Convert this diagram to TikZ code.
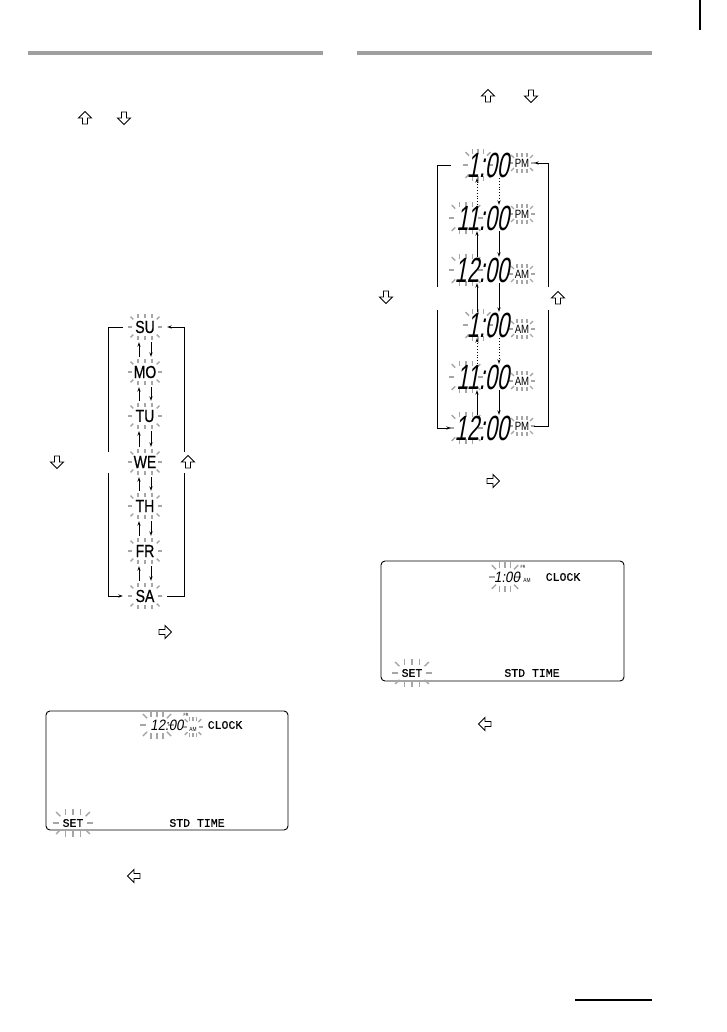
\documentclass[tikz,border=0pt]{standalone}
\usepackage{fontspec}
\usetikzlibrary{arrows.meta}
\newfontfamily\lcd[FakeStretch=0.8]{Liberation Sans}
\newfontfamily\lcdday[FakeStretch=0.8,FakeBold=0.6]{Liberation Sans}
\newfontfamily\lcdmono[FakeBold=0.8]{Liberation Mono}
\newfontfamily\lcdit[FakeStretch=0.62,FakeSlant=0.18]{Liberation Sans}
\newfontfamily\lcdsm[FakeStretch=0.88,FakeSlant=0.18]{Liberation Sans}
\newcommand\glow[5]{%
 \begin{scope}[shift={(#1,#2)}]
  \foreach \s in {-1,0,1}{
    \draw[glowline] (\s*0.55*#3,-#4) -- (\s*0.55*#3,-#4-#5);
    \draw[glowline] (\s*0.55*#3,#4) -- (\s*0.55*#3,#4+#5);}
  \draw[glowline] (-#3,0) -- (-#3-#5,0);
  \draw[glowline] (#3,0) -- (#3+#5,0);
  \foreach \sx/\sy in {1/1,1/-1,-1/1,-1/-1}
    \draw[glowline] (\sx*0.9*#3,\sy*0.85*#4) -- (\sx*0.9*#3+\sx*0.7*#5,\sy*0.85*#4+\sy*0.7*#5);
 \end{scope}}
\newcommand\hollowarr[3]{%
 \begin{scope}[shift={(#1,#2)},rotate=#3]
  \draw[hollow] (-2.5,6)--(-2.5,0)--(-6.5,0)--(0,-6.5)--(6.5,0)--(2.5,0)--(2.5,6)--cycle;
 \end{scope}}
\begin{document}
\begin{tikzpicture}[x=1pt,y=-1pt,
  glowline/.style={gray!70,line width=1.4pt},
  hollow/.style={draw=black,line width=0.9pt,line join=miter,fill=white},
  day/.style={font=\lcdday\fontsize{17.5}{17.5}\selectfont,inner sep=0pt,minimum width=44pt,minimum height=30pt},
  tdig/.style={font=\lcdit\fontsize{35}{35}\selectfont,inner sep=0pt,text width=58pt,align=right,minimum height=26pt},
  ampm/.style={font=\lcd\fontsize{12}{12}\selectfont,inner sep=0pt,minimum width=24pt,minimum height=12pt},
  boxtxt/.style={font=\lcdmono\fontsize{11.5}{11.5}\selectfont,inner sep=0pt},
  smdig/.style={font=\lcdsm\fontsize{15}{15}\selectfont,inner sep=0pt},
  tiny/.style={font=\lcd\fontsize{6}{6}\selectfont,inner sep=0pt},
  tinier/.style={font=\lcd\fontsize{4.5}{4.5}\selectfont,inner sep=0pt},
  conn/.style={line width=0.8pt},
  tip/.style={-{Stealth[length=4.5pt,width=3.2pt]}},
  lcdbox/.style={draw,line width=0.9pt,rounded corners=4pt},
  bar/.style={fill=gray!75,draw=none}]
\useasboundingbox (0,0) rectangle (726,1032);
% header bars and page marks
\fill[bar] (28,51) rectangle (323,55);
\fill[bar] (357,51) rectangle (652,55);
\fill[black] (699,0) rectangle (701,30);
\fill[black] (575,999) rectangle (652,1001);
% top arrows
\hollowarr{85}{118}{0}
\hollowarr{124}{118}{180}
\hollowarr{488}{96}{0}
\hollowarr{531}{96}{180}
% ---------- day cycle ----------
\foreach \n/\y in {SU/327,MO/372,TU/416,WE/462,TH/506,FR/551,SA/596}{
  \glow{145}{\y}{13}{9}{4}
  \node[day] (\n) at (145,\y) {\n};
}
\foreach \a/\b in {SU/MO,MO/TU,TU/WE,WE/TH,TH/FR,FR/SA}{
  \draw[conn,tip] ([xshift=-6pt]\b.north) -- ([xshift=-6pt]\a.south);
  \draw[conn,tip] ([xshift=6pt]\a.south) -- ([xshift=6pt]\b.north);
}
\coordinate (dL1) at (108,452);
\coordinate (dL2) at (108,473);
\coordinate (dR1) at (184,452);
\coordinate (dR2) at (184,473);
\draw[conn] (SU.west) -| (dL1);
\draw[conn,tip] (dL2) |- (SA.west);
\draw[conn] (SA.east) -| (dR2);
\draw[conn,tip] (dR1) |- (SU.east);
\hollowarr{57}{462}{180}
\hollowarr{188}{462}{0}
\hollowarr{165}{632}{-90}
% left LCD box
\draw[lcdbox] (46,711) rectangle (288,830);
\glow{157}{725}{11}{8}{6}
\glow{193}{727}{6}{6}{4}
\glow{73}{823}{14}{8}{6}
\node[smdig] (lclk) at (167,725) {12:00};
\node[tiny] (lam) at (193,729) {AM};
\node[tinier] (lfr) at (186,715) {FR};
\node[boxtxt] (lclock) at (225,725) {CLOCK};
\node[boxtxt] (lset) at (73,823) {SET};
\node[boxtxt] (lstd) at (197,823) {STD TIME};
\hollowarr{134}{876}{90}
% ---------- time cycle ----------
\coordinate (upx) at (477,0);
\coordinate (dnx) at (499,0);
\foreach \n/\y/\t/\m/\my/\gx/\gw in {1/165/1:00/PM/163/478/10,2/218/11:00/PM/214/466/12,3/270/12:00/AM/274/466/12,4/325/1:00/AM/329/478/10,5/377/11:00/AM/381/466/12,6/428/12:00/PM/426/466/12}{
  \glow{\gx}{\y}{\gw}{11}{5}
  \glow{522}{\my}{9}{6}{4}
  \node[tdig] (r\n) at (480,\y) {\t};
  \node[ampm] (p\n) at (522,\my) {\m};
}
\draw[conn,tip,dotted] (r2.north -| upx) -- (r1.south -| upx);
\draw[conn,tip,dotted] (r1.south -| dnx) -- (r2.north -| dnx);
\draw[conn,tip] (r3.north -| upx) -- (r2.south -| upx);
\draw[conn,tip] (r2.south -| dnx) -- (r3.north -| dnx);
\draw[conn,tip] (r4.north -| upx) -- (r3.south -| upx);
\draw[conn,tip] (r3.south -| dnx) -- (r4.north -| dnx);
\draw[conn,tip,dotted] (r5.north -| upx) -- (r4.south -| upx);
\draw[conn,tip,dotted] (r4.south -| dnx) -- (r5.north -| dnx);
\draw[conn,tip] (r6.north -| upx) -- (r5.south -| upx);
\draw[conn,tip] (r5.south -| dnx) -- (r6.north -| dnx);
\coordinate (tL1) at (437,287);
\coordinate (tL2) at (437,310);
\coordinate (tR1) at (548,287);
\coordinate (tR2) at (548,310);
\draw[conn] (r1.west) -| (tL1);
\draw[conn,tip] (tL2) |- (r6.west);
\draw[conn] (p6.east) -| (tR2);
\draw[conn,tip] (tR1) |- (p1.east);
\hollowarr{386}{297}{180}
\hollowarr{558}{298}{0}
\hollowarr{493}{481}{-90}
% right LCD box
\draw[lcdbox] (381,561) rectangle (624,681);
\glow{505}{577}{10}{9}{6}
\glow{412}{673}{14}{8}{6}
\node[smdig] (rclk) at (507,577) {1:00};
\node[tiny] (ram) at (527,580) {AM};
\node[tinier] (rfr) at (523,567) {FR};
\node[boxtxt] (rclock) at (563,577) {CLOCK};
\node[boxtxt] (rset) at (412,673) {SET};
\node[boxtxt] (rstd) at (532,673) {STD TIME};
\hollowarr{485}{724}{90}
\end{tikzpicture}
\end{document}
